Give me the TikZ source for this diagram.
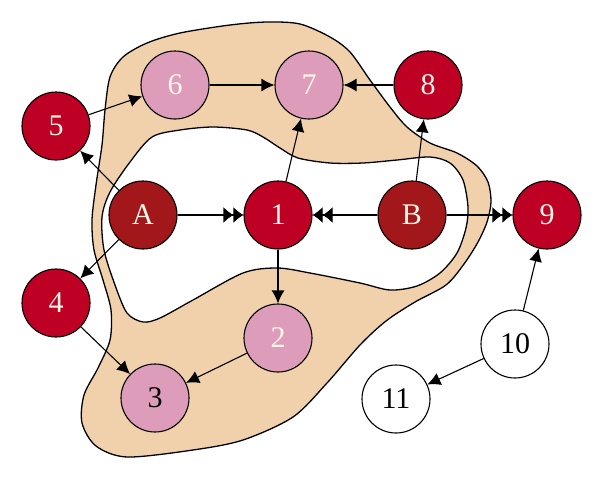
\documentclass[tikz,border=0pt]{standalone}
\usepackage{fontspec}
\setmainfont{Liberation Serif}
\usetikzlibrary{arrows.meta, positioning}
\definecolor{nodered}{RGB}{190,0,36}
\definecolor{nodemaroon}{RGB}{162,24,26}
\definecolor{nodepink}{RGB}{221,157,186}
\definecolor{regiontan}{RGB}{241,209,172}
\definecolor{labelcream}{RGB}{255,246,232}
\tikzstyle{redv} = [circle, minimum size=68pt, inner sep=0pt, draw=black, line width=1.1pt, fill=nodered, text=labelcream, font=\fontsize{30}{32}\selectfont]
\tikzstyle{darkv} = [redv, fill=nodemaroon]
\tikzstyle{pinkv} = [redv, fill=nodepink]
\tikzstyle{whitev} = [redv, fill=white, text=black]
\tikzstyle{arrow1} = [line width=1.1pt, -{Latex[length=13pt,width=13pt]}]
\tikzstyle{arrow2} = [line width=1.1pt, -{Latex[length=10pt,width=16pt]Latex[length=10pt,width=16pt]}]

\begin{document}
\begin{tikzpicture}[x=1pt, y=-1pt]
            \useasboundingbox (0,0) rectangle (600,480);
            % Region
            \path[fill=regiontan, draw=black, line width=1.3pt, even odd rule]
              plot[smooth cycle] coordinates {(105,110) (110,77) (123,57) (147,43) (180,33) (230,25) (267,22) (300,24) (330,37) (350,52) (370,80) (390,107) (407,127) (430,143) (457,153) (477,166) (488,182) (491,202) (487,222) (478,242) (464,264) (446,285) (415,302) (386,321) (360,345) (327,383) (293,417) (243,440) (193,450) (127,457) (96,446) (82,423) (84,395) (98,368) (110,340) (111,310) (103,280) (94,250) (92,220) (96,185) (102,145)}
              plot[smooth cycle] coordinates {(152,137) (180,130) (213,127) (247,130) (263,137) (280,148) (298,158) (330,163) (363,163) (397,160) (430,157) (450,163) (463,180) (468,207) (466,228) (457,253) (440,273) (417,286) (390,290) (360,283) (310,273) (277,268) (243,273) (193,300) (160,318) (143,322) (127,313) (115,285) (104,250) (102,217) (110,192) (130,162)};

            % Nodes
            \node (A) [darkv] at (143,215) {A};
            \node (n1) [redv, right of=A, node distance=135pt] {1};
            \node (B) [darkv, right of=n1, node distance=134pt] {B};
            \node (n9) [redv, right of=B, node distance=135pt] {9};
            \node (n7) [pinkv] at (309,85) {7};
            \node (n6) [pinkv, left of=n7, node distance=134pt] {6};
            \node (n8) [redv, right of=n7, node distance=119pt] {8};
            \node (n5) [redv] at (56,126) {5};
            \node (n4) [redv] at (56,303) {4};
            \node (n2) [pinkv, below of=n1, node distance=123pt] {2};
            \node (n3) [pinkv, text=black] at (155,398) {3};
            \node (n10) [whitev] at (515,344) {10};
            \node (n11) [whitev] at (396,399) {11};

            % Edges
            \draw [arrow1] (n5) -- (n6);
            \draw [arrow1] (n6) -- (n7);
            \draw [arrow1] (n8) -- (n7);
            \draw [arrow1] (n1) -- (n7);
            \draw [arrow1] (B) -- (n8);
            \draw [arrow1] (A) -- (n5);
            \draw [arrow1] (A) -- (n4);
            \draw [arrow2] (A) -- (n1);
            \draw [arrow2] (B) -- (n1);
            \draw [arrow2] (B) -- (n9);
            \draw [arrow1] (n1) -- (n2);
            \draw [arrow1] (n2) -- (n3);
            \draw [arrow1] (n4) -- (n3);
            \draw [arrow1] (n10) -- (n9);
            \draw [arrow1] (n10) -- (n11);
        \end{tikzpicture}
\end{document}
